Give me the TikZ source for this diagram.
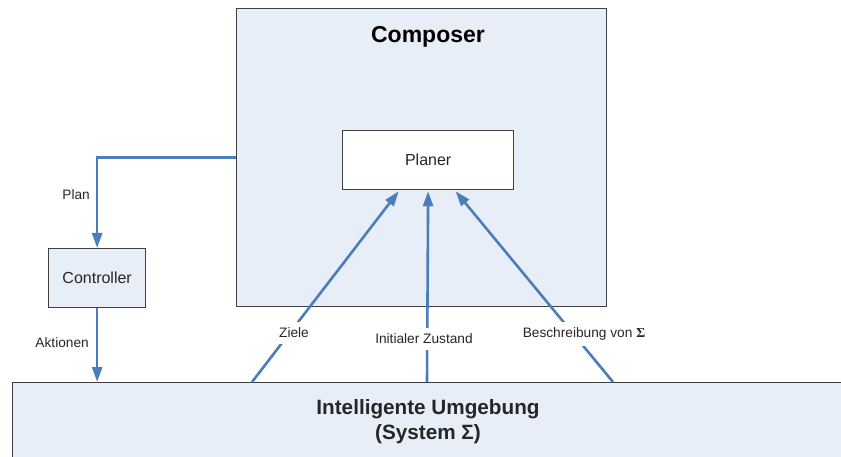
\documentclass[tikz,border=0pt]{standalone}
\usepackage{fontspec}
\setmainfont{Liberation Sans}
\newfontfamily\serifsym{Liberation Serif}
\usetikzlibrary{arrows.meta,calc}

\definecolor{boxfill}{HTML}{E8EEF7}
\definecolor{boxline}{HTML}{404040}
\definecolor{flow}{HTML}{4A7EBB}
\definecolor{txt}{HTML}{262626}

\tikzset{
  block/.style={draw=boxline, line width=1.3pt, fill=boxfill, inner sep=0pt},
  whiteblock/.style={block, fill=white},
  flowline/.style={draw=flow, line width=2.6pt},
  flowarrow/.style={flowline, -{Triangle[width=10pt,length=15pt]}},
  lbl/.style={font=\fontsize{13.7}{16}\selectfont, text=txt, inner sep=1pt},
  cutlbl/.style={lbl, fill=white, inner xsep=3pt, inner ysep=6pt},
  boxtext/.style={font=\fontsize{16}{19}\selectfont, text=txt},
}

\begin{document}
\begin{tikzpicture}[x=1pt,y=-1pt]
  \clip (0,0) rectangle (841,457);
  \useasboundingbox (0,0) rectangle (841,457);

  % environment band along the bottom, running past the right and lower edges
  \node[block, anchor=north west, minimum width=860pt, minimum height=110pt] (env) at (12,382) {};
  \node[font=\bfseries\fontsize{20.7}{25}\selectfont, text=txt, align=center] (envtext) at (428,422)
    {Intelligente Umgebung\\(System Σ)};

  % composer with the planner inside
  \node[block, anchor=north west, minimum width=370pt, minimum height=298pt] (composer) at (236,8) {};
  \node[font=\bfseries\fontsize{23}{27}\selectfont, text=black] (ctitle) at (428,37) {Composer};
  \node[whiteblock, anchor=north west, minimum width=171pt, minimum height=59pt, boxtext] (planer) at (342,130) {};
  \node[boxtext] (planertext) at (planer.center) {Planer};

  % controller
  \node[block, anchor=north west, minimum width=97pt, minimum height=59pt] (ctrl) at (48,248) {};
  \node[boxtext] (ctrltext) at (ctrl.center) {Controller};

  % end points on the band and below the planner
  \coordinate (zstart) at ($(env.north west)+(240,0)$);
  \coordinate (istart) at ($(env.north west)+(415,0)$);
  \coordinate (bstart) at ($(env.north west)+(601,0)$);
  \coordinate (zend) at ($(planer.south)+(-29.5,1)$);
  \coordinate (iend) at ($(planer.south)+(0,1)$);
  \coordinate (bend) at ($(planer.south)+(27.5,1)$);

  % connectors
  \draw[flowarrow] (composer.west) -| (ctrl.north);
  \draw[flowarrow] (ctrl.south) -- (ctrl.south |- env.north);
  \draw[flowarrow] (zstart) -- (zend);
  \draw[flowarrow] (istart) -- (iend);
  \draw[flowarrow] (bstart) -- (bend);

  % connector labels
  \node[lbl, anchor=east] (lplan) at (91,195) {Plan};
  \node[lbl, anchor=east] (lakt) at (90,343) {Aktionen};
  \node[cutlbl] (lziele) at (294,333) {Ziele};
  \node[cutlbl] (linit) at (424,339) {Initialer Zustand};
  \node[cutlbl] (lbeschr) at (584,334) {Beschreibung von {\serifsym\bfseries Σ}};
\end{tikzpicture}
\end{document}
